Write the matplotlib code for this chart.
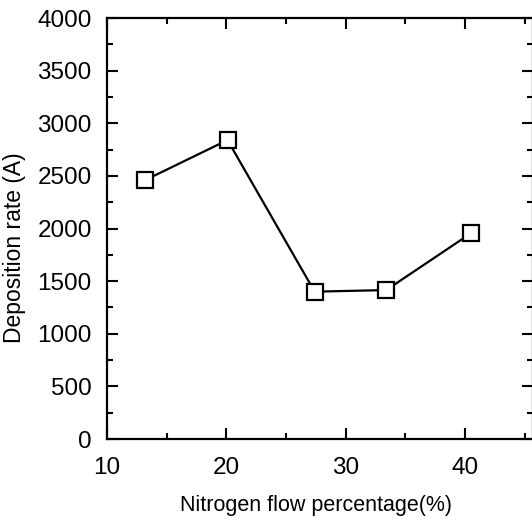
import matplotlib
matplotlib.use("Agg")
import matplotlib.pyplot as plt
from matplotlib.ticker import MultipleLocator

# nitrogen flow (%) vs deposition rate
n2_flow = [13.2, 20.1, 27.4, 33.4, 40.5]
dep_rate = [2460, 2840, 1400, 1415, 1955]

plt.rcParams['font.family'] = ['Liberation Sans', 'DejaVu Sans']

fig = plt.figure(figsize=(5.32, 5.19), dpi=100)
ax = fig.add_axes([107 / 532, 80 / 519, 426 / 532, 421 / 519])

ax.plot(n2_flow, dep_rate, color='black', lw=1.6, marker='s', ms=11,
        mfc='white', mec='black', mew=1.6)

ax.set_xlim(10, 45.7)
ax.set_ylim(0, 4000)
ax.xaxis.set_major_locator(MultipleLocator(10))
ax.xaxis.set_minor_locator(MultipleLocator(5))
ax.yaxis.set_major_locator(MultipleLocator(500))
ax.yaxis.set_minor_locator(MultipleLocator(250))
ax.tick_params(which='both', direction='in', top=True, right=True,
               width=1.5, labelsize=17.5)
ax.tick_params(which='major', length=8)
ax.tick_params(which='minor', length=4)
ax.tick_params(axis='x', which='major', pad=13)
ax.tick_params(axis='y', which='major', pad=11)
for s in ax.spines.values():
    s.set_linewidth(1.6)

ax.set_xlabel('Nitrogen flow percentage(%)', fontsize=15.5)
ax.xaxis.set_label_coords(0.49, -0.133)
ax.set_ylabel('Deposition rate (A)', fontsize=16.5)
ax.yaxis.set_label_coords(-0.19, 0.455)

fig.savefig('out.png', dpi=100)
